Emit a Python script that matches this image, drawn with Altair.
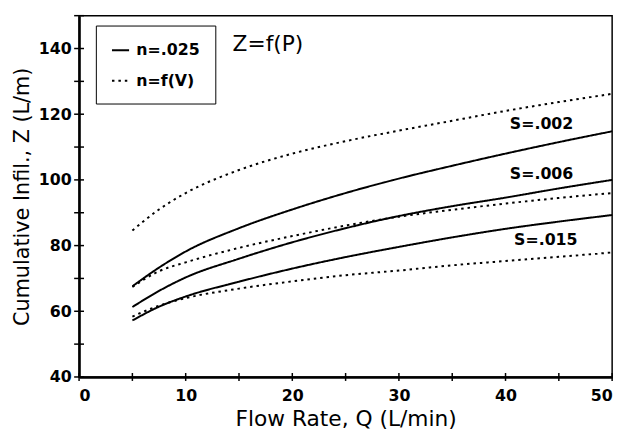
import altair as alt
import pandas as pd

# Flow rate Q (L/min)
flow = [5, 7.5, 10, 15, 20, 25, 30, 35, 40, 45, 50]

# Cumulative infiltration Z (L/m), n = .025 (solid)
z_s002_n025 = [67.6, 73.3, 78.2, 85.3, 91.0, 96.0, 100.4, 104.3, 108.0, 111.5, 114.8]
z_s006_n025 = [61.3, 66.2, 70.3, 76.0, 81.0, 85.3, 89.0, 92.0, 94.6, 97.4, 100.0]
z_s015_n025 = [57.2, 61.4, 64.5, 69.0, 73.0, 76.5, 79.6, 82.5, 85.1, 87.3, 89.3]

# n = f(V) (dotted)
z_s002_nfv = [84.6, 91.0, 96.0, 103.0, 108.0, 111.8, 115.0, 118.0, 121.0, 123.7, 126.2]
z_s006_nfv = [67.4, 72.2, 74.9, 79.3, 82.9, 86.1, 88.8, 90.9, 92.8, 94.5, 96.0]
z_s015_nfv = [58.4, 61.7, 64.0, 66.9, 69.1, 71.0, 72.4, 74.0, 75.3, 76.6, 77.9]

series = [
    ("S=.002", "n=.025", z_s002_n025),
    ("S=.006", "n=.025", z_s006_n025),
    ("S=.015", "n=.025", z_s015_n025),
    ("S=.002", "n=f(V)", z_s002_nfv),
    ("S=.006", "n=f(V)", z_s006_nfv),
    ("S=.015", "n=f(V)", z_s015_nfv),
]

rows = []
for s, n, zs in series:
    for q, z in zip(flow, zs):
        rows.append({"Q": q, "Z": z, "S": s, "n": n, "key": s + n})
df = pd.DataFrame(rows)

# curve labels
label_text = ["S=.002", "S=.006", "S=.015"]
label_q = [40.4, 40.4, 40.8]
label_z = [116.9, 101.7, 81.6]
labels = pd.DataFrame({"t": label_text, "Q": label_q, "Z": label_z})

note = pd.DataFrame({"t": ["Z=f(P)"], "Q": [14.4], "Z": [141.4]})

x_ticks = pd.DataFrame({"Q": [0, 5, 10, 15, 20, 25, 30, 35, 40, 45, 50]})
y_ticks = pd.DataFrame({"Z": [40, 50, 60, 70, 80, 90, 100, 110, 120, 130, 140, 150]})

W, H = 540, 366
FONT = "DejaVu Sans"

xs = alt.Scale(domain=[0, 50], nice=False)
ys = alt.Scale(domain=[40, 150], nice=False)

lines = alt.Chart(df).mark_line(color="black", strokeWidth=2, interpolate="monotone").encode(
    x=alt.X("Q:Q", scale=xs,
            axis=alt.Axis(values=[0, 10, 20, 30, 40, 50], title="Flow Rate, Q (L/min)",
                          ticks=False, labelPadding=11, titlePadding=5, titleFontSize=22)),
    y=alt.Y("Z:Q", scale=ys,
            axis=alt.Axis(values=[40, 60, 80, 100, 120, 140], title="Cumulative Infil., Z (L/m)",
                          ticks=False, labelPadding=8, titlePadding=6, titleFontSize=21)),
    strokeDash=alt.StrokeDash(
        "n:N",
        scale=alt.Scale(domain=["n=.025", "n=f(V)"], range=[[1, 0], [2.5, 4]]),
        legend=alt.Legend(title=None, orient="none", legendX=17, legendY=10,
                          strokeColor="black", padding=15, rowPadding=13,
                          symbolType="stroke", symbolStrokeWidth=2, symbolSize=300,
                          symbolStrokeColor="black", labelFont=FONT, labelFontSize=16,
                          labelFontWeight="bold", labelColor="black", labelOffset=6,
                          fillColor="white"),
    ),
    detail="key:N",
)

xt = alt.Chart(x_ticks).mark_rule(color="black", strokeWidth=1.5).encode(
    x=alt.X("Q:Q", scale=xs), y=alt.value(H - 4), y2=alt.value(H + 4))
yt = alt.Chart(y_ticks).mark_rule(color="black", strokeWidth=1.5).encode(
    y=alt.Y("Z:Q", scale=ys), x=alt.value(-5), x2=alt.value(5))

lab = alt.Chart(labels).mark_text(align="left", baseline="middle", font=FONT,
                                  fontSize=16, fontWeight="bold", color="black").encode(
    x=alt.X("Q:Q", scale=xs), y=alt.Y("Z:Q", scale=ys), text="t:N")

nt = alt.Chart(note).mark_text(align="left", baseline="middle", font=FONT,
                               fontSize=22, color="black").encode(
    x=alt.X("Q:Q", scale=xs), y=alt.Y("Z:Q", scale=ys), text="t:N")

chart = alt.layer(lines, xt, yt, lab, nt).properties(
    width=W, height=H,
    background="white",
    autosize=alt.AutoSizeParams(type="none"),
    padding={"left": 72, "top": 5, "right": 11, "bottom": 55},
).configure_view(
    stroke="black", strokeWidth=1.5
).configure_axis(
    domainColor="black", domainWidth=2.5, grid=False,
    labelFont=FONT, labelFontSize=16, labelFontWeight="bold", labelColor="black",
    titleFont=FONT, titleFontWeight="normal", titleColor="black",
)

chart.save("out.html", embed_options={"renderer": "svg", "actions": False})
